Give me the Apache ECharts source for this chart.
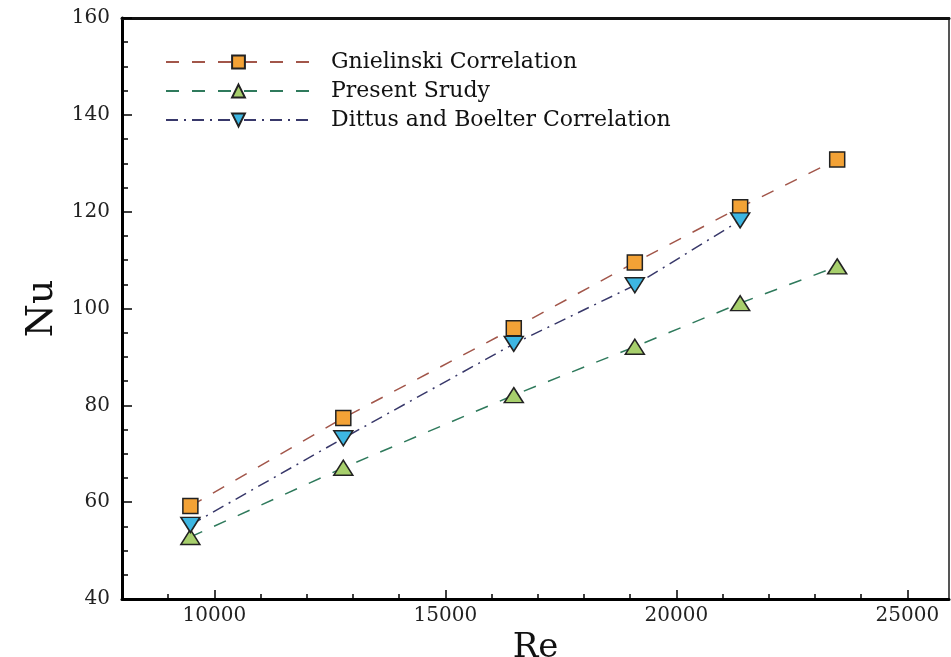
<!DOCTYPE html>
<html>
<head>
<meta charset="utf-8">
<script src="https://cdn.jsdelivr.net/npm/echarts@6/dist/echarts.min.js"></script>
<style>html,body{margin:0;padding:0;background:#fff;}#c{width:951px;height:657px;}</style>
</head>
<body>
<div id="c"></div>
<script>
var reGn = [9480, 12790, 16480, 19100, 21380, 23480];
var nuGn = [59.2, 77.4, 95.9, 109.5, 120.9, 130.8];
var rePs = [9480, 12790, 16480, 19100, 21380, 23480];
var nuPs = [52.8, 67.1, 82.1, 92.1, 101.1, 108.7];
var reDb = [9480, 12790, 16480, 19100, 21380];
var nuDb = [55.3, 73.2, 92.7, 104.8, 118.2];
var seriesNames = ['Gnielinski Correlation', 'Present Srudy', 'Dittus and Boelter Correlation'];
var xTickLabels = [10000, 15000, 20000, 25000];
var xMinorTicks = [9000, 10000, 11000, 12000, 13000, 14000, 15000, 16000, 17000, 18000, 19000, 20000, 21000, 22000, 23000, 24000, 25000];

function pairs(xs, ys) { return xs.map(function (x, i) { return [x, ys[i]]; }); }
var font = 'DejaVu Serif';
var chart = echarts.init(document.getElementById('c'));
chart.setOption({
  animation: false,
  backgroundColor: '#fff',
  grid: { left: 122, right: 2, top: 18, bottom: 58, show: true, borderColor: '#555', borderWidth: 2,
          outerBoundsMode: 'none', containLabel: false },
  legend: {
    left: 160, top: 46, orient: 'vertical', itemWidth: 145, itemHeight: 16, itemGap: 7,
    data: seriesNames,
    textStyle: { fontFamily: font, fontSize: 22, color: '#111', padding: [0, 0, 0, 15] }
  },
  xAxis: [{
    type: 'value', min: 8000, max: 25900,
    name: 'Re', nameLocation: 'middle', nameGap: 19,
    nameTextStyle: { fontFamily: font, fontSize: 34, color: '#111' },
    axisLine: { lineStyle: { color: '#000', width: 3 } },
    axisTick: { inside: true, length: 5, customValues: xMinorTicks, lineStyle: { color: '#000', width: 1.5 } },
    axisLabel: { fontFamily: font, fontSize: 20, color: '#222', margin: 7, customValues: xTickLabels,
      formatter: function (v) { return String(v); } },
    splitLine: { show: false }
  }, {
    type: 'value', min: 8000, max: 25900, position: 'bottom',
    axisLine: { show: false },
    axisTick: { inside: true, length: 9, customValues: xTickLabels, lineStyle: { color: '#000', width: 1.5 } },
    axisLabel: { show: false }, splitLine: { show: false }
  }, {
    type: 'value', min: 8000, max: 25900, position: 'top',
    axisLine: { lineStyle: { color: '#111', width: 3 } },
    axisTick: { show: false }, axisLabel: { show: false }, splitLine: { show: false }
  }],
  yAxis: {
    type: 'value', min: 40, max: 160, interval: 20,
    name: 'Nu', nameLocation: 'middle', nameGap: 61, nameRotate: 90,
    nameTextStyle: { fontFamily: font, fontSize: 38, color: '#111' },
    axisLine: { show: true, lineStyle: { color: '#000', width: 3 } },
    axisTick: { inside: true, length: 10, lineStyle: { color: '#000', width: 1.5 } },
    minorTick: { show: true, splitNumber: 4, length: 6, lineStyle: { color: '#000', width: 1.5 } },
    axisLabel: { fontFamily: font, fontSize: 20, color: '#222', margin: 12 },
    splitLine: { show: false }
  },
  series: [{
    name: seriesNames[0], type: 'line', data: pairs(reGn, nuGn),
    symbol: 'rect', symbolSize: 15,
    lineStyle: { color: '#a2564a', width: 1.5, type: [13, 13] },
    itemStyle: { color: '#f3a236', borderColor: '#222', borderWidth: 1.5 }
  }, {
    name: seriesNames[1], type: 'line', data: pairs(rePs, nuPs),
    symbol: 'triangle', symbolSize: [19, 15],
    lineStyle: { color: '#2f7a5c', width: 1.5, type: [13, 13] },
    itemStyle: { color: '#a7cf6c', borderColor: '#222', borderWidth: 1.5 }
  }, {
    name: seriesNames[2], type: 'line', data: pairs(reDb, nuDb),
    symbol: 'triangle', symbolRotate: 180, symbolSize: [19, 15],
    lineStyle: { color: '#38386a', width: 1.5, type: [12, 6, 2, 6] },
    itemStyle: { color: '#3db6e2', borderColor: '#222', borderWidth: 1.5 }
  }]
});
</script>
</body>
</html>
